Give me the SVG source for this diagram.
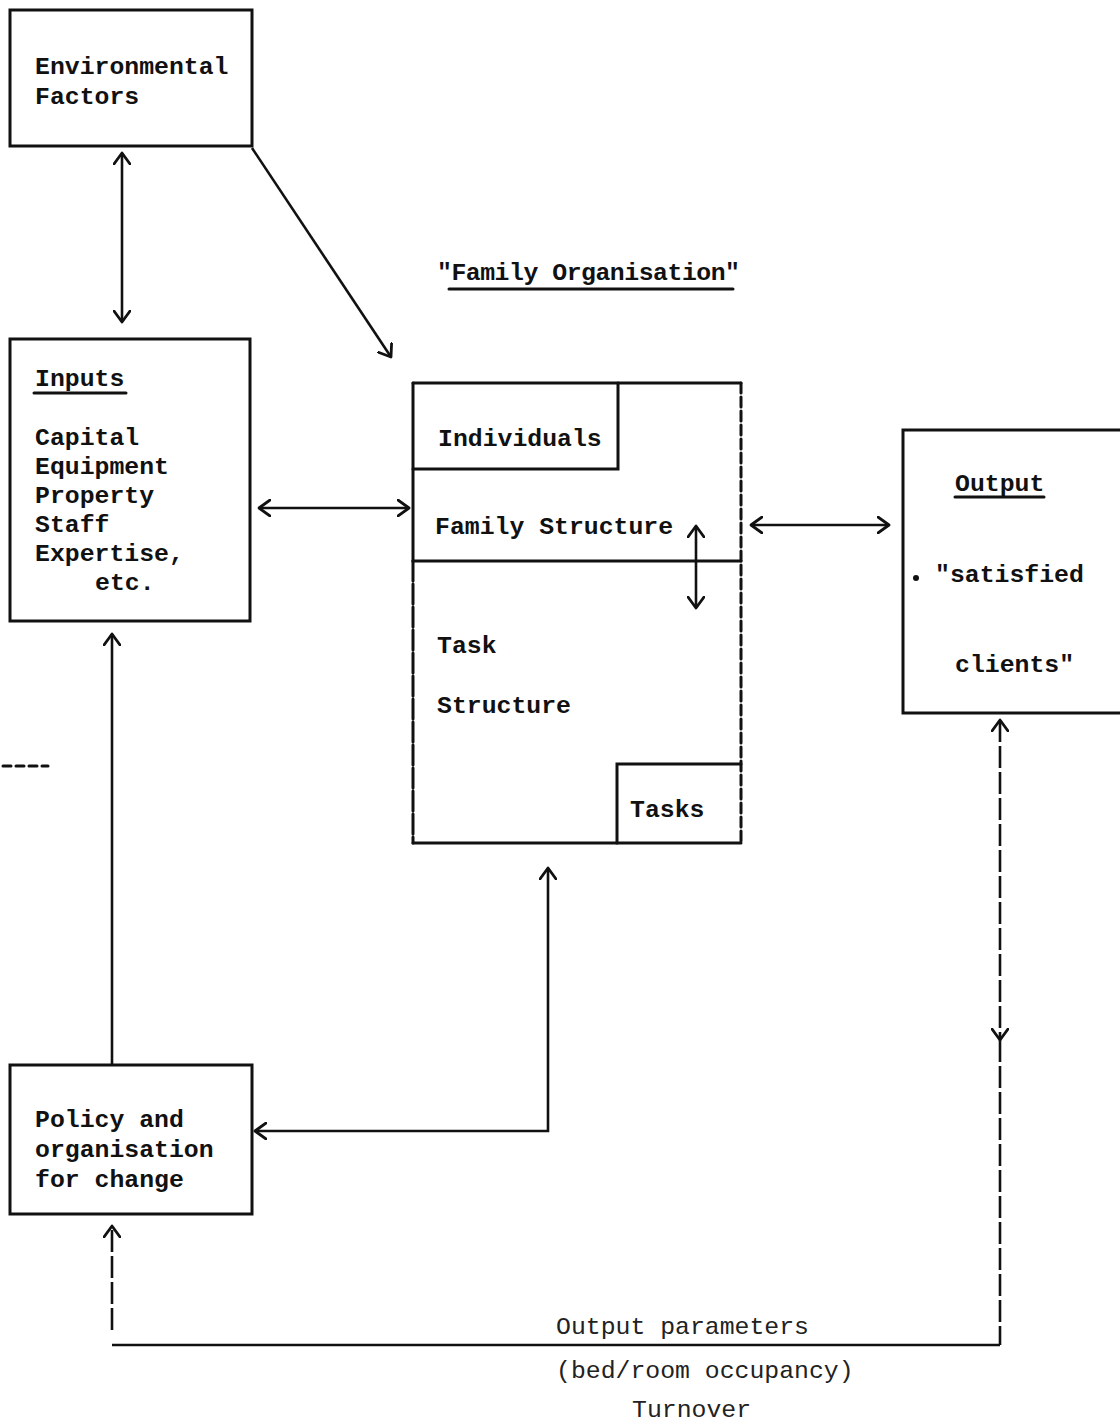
<svg xmlns="http://www.w3.org/2000/svg" width="1120" height="1428" viewBox="0 0 1120 1428">
<defs>
<style>
.box{fill:none;stroke:#111;stroke-width:3;stroke-linecap:round}
.ln{fill:none;stroke:#111;stroke-width:3;stroke-linecap:round}
.con{fill:none;stroke:#111;stroke-width:2.6;stroke-linejoin:miter}
.dash{stroke-dasharray:22 4}
.t{font-family:"Liberation Mono","Courier New",monospace;font-size:24.8px;fill:#111;font-weight:bold}
.tl{font-family:"Liberation Mono","Courier New",monospace;font-size:24.8px;fill:#222}
</style>
<marker id="ah" viewBox="0 0 14 18" markerWidth="14" markerHeight="18" refX="12" refY="9" orient="auto-start-reverse" markerUnits="userSpaceOnUse">
<path d="M1,1 L12,9 L1,17" fill="none" stroke="#111" stroke-width="2.8" stroke-linecap="round" stroke-linejoin="round"/>
</marker>
</defs>
<rect width="1120" height="1428" fill="#fff"/>

<g id="environmental">
<rect class="box" x="10" y="10" width="242" height="136"/>
<text class="t" x="35" y="74">Environmental</text>
<text class="t" x="35" y="104">Factors</text>
</g>

<g id="inputs">
<rect class="box" x="10" y="339" width="240" height="282"/>
<text class="t" x="35" y="386">Inputs</text>
<line class="ln" x1="34" y1="393" x2="126" y2="393" stroke-width="2.4"/>
<text class="t" x="35" y="445">Capital</text>
<text class="t" x="35" y="474">Equipment</text>
<text class="t" x="35" y="503">Property</text>
<text class="t" x="35" y="532">Staff</text>
<text class="t" x="35" y="561">Expertise,</text>
<text class="t" x="95" y="590">etc.</text>
</g>

<g id="family-title">
<text class="t" x="437" y="280" textLength="303">"Family Organisation"</text>
<line class="ln" x1="449" y1="289" x2="733" y2="289" stroke-width="2.6"/>
</g>

<g id="family">
<line class="ln" x1="413" y1="383" x2="741" y2="383"/>
<line class="ln" x1="413" y1="383" x2="413" y2="561"/>
<line class="ln" x1="413" y1="561" x2="413" y2="843" stroke-dasharray="20 3" stroke-width="2.4"/>
<line class="ln" x1="741" y1="383" x2="741" y2="843" stroke-dasharray="10 4" stroke-width="2.4"/>
<line class="ln" x1="413" y1="843" x2="741" y2="843"/>
<line class="ln" x1="413" y1="561" x2="741" y2="561"/>
</g>

<g id="individuals">
<path class="box" d="M413,469 L618,469 L618,383"/>
<text class="t" x="438" y="446">Individuals</text>
</g>

<g id="family-structure">
<text class="t" x="435" y="534">Family Structure</text>
</g>

<g id="task-structure">
<text class="t" x="437" y="653">Task</text>
<text class="t" x="437" y="713">Structure</text>
</g>

<g id="tasks">
<path class="box" d="M741,764 L617,764 L617,843"/>
<text class="t" x="630" y="817">Tasks</text>
</g>

<g id="output">
<rect class="box" x="903" y="430" width="240" height="283"/>
<text class="t" x="955" y="491">Output</text>
<line class="ln" x1="955" y1="497" x2="1044" y2="497" stroke-width="2.4"/>
<circle cx="916" cy="578" r="3" fill="#111"/>
<text class="t" x="935" y="582">"satisfied</text>
<text class="t" x="955" y="672">clients"</text>
</g>

<g id="policy">
<rect class="box" x="10" y="1065" width="242" height="149"/>
<text class="t" x="35" y="1127">Policy and</text>
<text class="t" x="35" y="1157">organisation</text>
<text class="t" x="35" y="1187">for change</text>
</g>

<g id="output-parameters">
<text class="tl" x="556" y="1334">Output parameters</text>
<text class="tl" x="556" y="1378">(bed/room occupancy)</text>
<text class="tl" x="632" y="1417">Turnover</text>
</g>

<g id="connectors">
<line class="con" x1="122" y1="153" x2="122" y2="322" marker-start="url(#ah)" marker-end="url(#ah)"/>
<line class="con" x1="252" y1="148" x2="391" y2="357" marker-end="url(#ah)"/>
<line class="con" x1="259" y1="508" x2="409" y2="508" marker-start="url(#ah)" marker-end="url(#ah)"/>
<line class="con" x1="751" y1="525" x2="889" y2="525" marker-start="url(#ah)" marker-end="url(#ah)"/>
<line class="con" x1="696" y1="526" x2="696" y2="608" marker-start="url(#ah)" marker-end="url(#ah)"/>
<line class="con" x1="112" y1="1065" x2="112" y2="634" marker-end="url(#ah)"/>
<polyline class="con" points="548,868 548,1131 255,1131" marker-start="url(#ah)" marker-end="url(#ah)"/>
<line class="con dash" x1="1000" y1="720" x2="1000" y2="1040" marker-start="url(#ah)" marker-end="url(#ah)"/>
<line class="con dash" x1="1000" y1="1040" x2="1000" y2="1345"/>
<line class="con" x1="112" y1="1345" x2="1000" y2="1345"/>
<line class="con dash" x1="112" y1="1330" x2="112" y2="1226" marker-end="url(#ah)" stroke-width="2"/>
</g>

<g id="stray-mark">
<line class="ln" x1="3" y1="766" x2="48" y2="766" stroke-dasharray="8 5" stroke-width="2.6"/>
</g>
</svg>
